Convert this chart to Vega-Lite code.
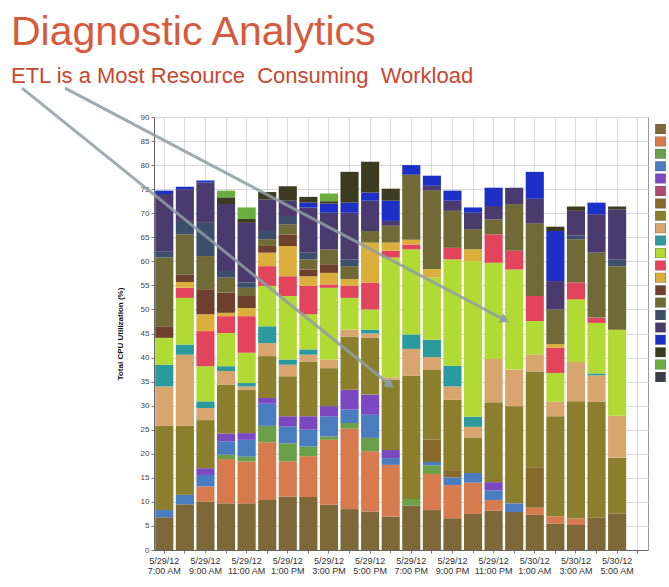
{
  "$schema": "https://vega.github.io/schema/vega-lite/v6.json",
  "width": 494,
  "height": 433,
  "autosize": {"type": "none"},
  "padding": {"left": 154, "top": 117, "right": 21, "bottom": 37},
  "background": "white",
  "title": {
    "text": "Diagnostic Analytics",
    "subtitle": "ETL is a Most Resource\u00a0 Consuming\u00a0 Workload",
    "anchor": "start",
    "frame": "group",
    "dx": -143,
    "offset": -1,
    "font": "Liberation Sans",
    "fontSize": 41,
    "fontWeight": "normal",
    "color": "#d65a3d",
    "subtitleFont": "Liberation Sans",
    "subtitleFontSize": 22,
    "subtitleColor": "#c8472f",
    "subtitlePadding": 12
  },
  "datasets": {
    "bars": [
      {"t":"5/29/12|7:00 AM","s":"S01","v":6.8},{"t":"5/29/12|7:00 AM","s":"S04","v":1.5},{"t":"5/29/12|7:00 AM","s":"S08","v":17.5},{"t":"5/29/12|7:00 AM","s":"S09","v":8.2},{"t":"5/29/12|7:00 AM","s":"S10","v":4.5},{"t":"5/29/12|7:00 AM","s":"S11","v":5.6},{"t":"5/29/12|7:00 AM","s":"S14","v":2.4},{"t":"5/29/12|7:00 AM","s":"S15","v":14.3},{"t":"5/29/12|7:00 AM","s":"S16","v":1.2},{"t":"5/29/12|7:00 AM","s":"S17","v":12},{"t":"5/29/12|7:00 AM","s":"S18","v":0.7},
      {"t":"5/29/12|8:00 AM","s":"S01","v":9.5},{"t":"5/29/12|8:00 AM","s":"S04","v":2},{"t":"5/29/12|8:00 AM","s":"S08","v":14.3},{"t":"5/29/12|8:00 AM","s":"S09","v":14.8},{"t":"5/29/12|8:00 AM","s":"S10","v":2.1},{"t":"5/29/12|8:00 AM","s":"S11","v":9.7},{"t":"5/29/12|8:00 AM","s":"S12","v":2.1},{"t":"5/29/12|8:00 AM","s":"S13","v":1.2},{"t":"5/29/12|8:00 AM","s":"S14","v":1.6},{"t":"5/29/12|8:00 AM","s":"S15","v":8.3},{"t":"5/29/12|8:00 AM","s":"S16","v":2.8},{"t":"5/29/12|8:00 AM","s":"S17","v":6.6},{"t":"5/29/12|8:00 AM","s":"S18","v":0.5},
      {"t":"5/29/12|9:00 AM","s":"S01","v":10},{"t":"5/29/12|9:00 AM","s":"S02","v":3.2},{"t":"5/29/12|9:00 AM","s":"S04","v":2.4},{"t":"5/29/12|9:00 AM","s":"S05","v":1.4},{"t":"5/29/12|9:00 AM","s":"S08","v":10},{"t":"5/29/12|9:00 AM","s":"S09","v":2.5},{"t":"5/29/12|9:00 AM","s":"S10","v":1.4},{"t":"5/29/12|9:00 AM","s":"S11","v":7.3},{"t":"5/29/12|9:00 AM","s":"S12","v":7.3},{"t":"5/29/12|9:00 AM","s":"S13","v":3.5},{"t":"5/29/12|9:00 AM","s":"S14","v":5.2},{"t":"5/29/12|9:00 AM","s":"S15","v":6.9},{"t":"5/29/12|9:00 AM","s":"S16","v":6.9},{"t":"5/29/12|9:00 AM","s":"S17","v":8.4},{"t":"5/29/12|9:00 AM","s":"S18","v":0.4},
      {"t":"5/29/12|10:00 AM","s":"S01","v":9.7},{"t":"5/29/12|10:00 AM","s":"S02","v":9.2},{"t":"5/29/12|10:00 AM","s":"S03","v":0.9},{"t":"5/29/12|10:00 AM","s":"S04","v":2.8},{"t":"5/29/12|10:00 AM","s":"S05","v":1.6},{"t":"5/29/12|10:00 AM","s":"S08","v":10.2},{"t":"5/29/12|10:00 AM","s":"S09","v":2.8},{"t":"5/29/12|10:00 AM","s":"S10","v":1},{"t":"5/29/12|10:00 AM","s":"S11","v":6.9},{"t":"5/29/12|10:00 AM","s":"S12","v":3.5},{"t":"5/29/12|10:00 AM","s":"S13","v":0.7},{"t":"5/29/12|10:00 AM","s":"S14","v":4.2},{"t":"5/29/12|10:00 AM","s":"S15","v":3.1},{"t":"5/29/12|10:00 AM","s":"S16","v":1.4},{"t":"5/29/12|10:00 AM","s":"S17","v":13.9},{"t":"5/29/12|10:00 AM","s":"S19","v":1.4},{"t":"5/29/12|10:00 AM","s":"S20","v":1.4},
      {"t":"5/29/12|11:00 AM","s":"S01","v":9.7},{"t":"5/29/12|11:00 AM","s":"S02","v":8.7},{"t":"5/29/12|11:00 AM","s":"S03","v":1},{"t":"5/29/12|11:00 AM","s":"S04","v":3.5},{"t":"5/29/12|11:00 AM","s":"S05","v":1.4},{"t":"5/29/12|11:00 AM","s":"S08","v":9},{"t":"5/29/12|11:00 AM","s":"S09","v":0.7},{"t":"5/29/12|11:00 AM","s":"S10","v":0.7},{"t":"5/29/12|11:00 AM","s":"S11","v":6.3},{"t":"5/29/12|11:00 AM","s":"S12","v":7.6},{"t":"5/29/12|11:00 AM","s":"S13","v":1.7},{"t":"5/29/12|11:00 AM","s":"S14","v":2.5},{"t":"5/29/12|11:00 AM","s":"S15","v":1.7},{"t":"5/29/12|11:00 AM","s":"S16","v":1.1},{"t":"5/29/12|11:00 AM","s":"S17","v":12.4},{"t":"5/29/12|11:00 AM","s":"S19","v":0.8},{"t":"5/29/12|11:00 AM","s":"S20","v":2.4},
      {"t":"5/29/12|12:00 PM","s":"S01","v":10.4},{"t":"5/29/12|12:00 PM","s":"S02","v":12},{"t":"5/29/12|12:00 PM","s":"S03","v":3.4},{"t":"5/29/12|12:00 PM","s":"S04","v":4.6},{"t":"5/29/12|12:00 PM","s":"S05","v":1.2},{"t":"5/29/12|12:00 PM","s":"S08","v":8.7},{"t":"5/29/12|12:00 PM","s":"S09","v":2.7},{"t":"5/29/12|12:00 PM","s":"S10","v":3.5},{"t":"5/29/12|12:00 PM","s":"S11","v":8.4},{"t":"5/29/12|12:00 PM","s":"S12","v":4.1},{"t":"5/29/12|12:00 PM","s":"S13","v":2.8},{"t":"5/29/12|12:00 PM","s":"S14","v":1.4},{"t":"5/29/12|12:00 PM","s":"S15","v":1.4},{"t":"5/29/12|12:00 PM","s":"S16","v":1.7},{"t":"5/29/12|12:00 PM","s":"S17","v":6.6},{"t":"5/29/12|12:00 PM","s":"S19","v":1.5},
      {"t":"5/29/12|1:00 PM","s":"S01","v":11.1},{"t":"5/29/12|1:00 PM","s":"S02","v":7.3},{"t":"5/29/12|1:00 PM","s":"S03","v":3.8},{"t":"5/29/12|1:00 PM","s":"S04","v":3.5},{"t":"5/29/12|1:00 PM","s":"S05","v":2.1},{"t":"5/29/12|1:00 PM","s":"S08","v":8.3},{"t":"5/29/12|1:00 PM","s":"S09","v":2.4},{"t":"5/29/12|1:00 PM","s":"S10","v":1.1},{"t":"5/29/12|1:00 PM","s":"S11","v":13.2},{"t":"5/29/12|1:00 PM","s":"S12","v":4.1},{"t":"5/29/12|1:00 PM","s":"S13","v":6.3},{"t":"5/29/12|1:00 PM","s":"S14","v":2.4},{"t":"5/29/12|1:00 PM","s":"S15","v":2.1},{"t":"5/29/12|1:00 PM","s":"S16","v":1.7},{"t":"5/29/12|1:00 PM","s":"S17","v":3.2},{"t":"5/29/12|1:00 PM","s":"S19","v":3},
      {"t":"5/29/12|2:00 PM","s":"S01","v":11},{"t":"5/29/12|2:00 PM","s":"S02","v":8.5},{"t":"5/29/12|2:00 PM","s":"S03","v":2},{"t":"5/29/12|2:00 PM","s":"S04","v":3.5},{"t":"5/29/12|2:00 PM","s":"S05","v":2.8},{"t":"5/29/12|2:00 PM","s":"S08","v":11.4},{"t":"5/29/12|2:00 PM","s":"S09","v":1.4},{"t":"5/29/12|2:00 PM","s":"S10","v":1.1},{"t":"5/29/12|2:00 PM","s":"S11","v":7.3},{"t":"5/29/12|2:00 PM","s":"S12","v":5.9},{"t":"5/29/12|2:00 PM","s":"S13","v":2},{"t":"5/29/12|2:00 PM","s":"S14","v":1.4},{"t":"5/29/12|2:00 PM","s":"S15","v":2.1},{"t":"5/29/12|2:00 PM","s":"S16","v":1.4},{"t":"5/29/12|2:00 PM","s":"S17","v":9.4},{"t":"5/29/12|2:00 PM","s":"S18","v":1},{"t":"5/29/12|2:00 PM","s":"S19","v":1.2},
      {"t":"5/29/12|3:00 PM","s":"S01","v":9.4},{"t":"5/29/12|3:00 PM","s":"S02","v":13.5},{"t":"5/29/12|3:00 PM","s":"S03","v":0.7},{"t":"5/29/12|3:00 PM","s":"S04","v":4.2},{"t":"5/29/12|3:00 PM","s":"S05","v":2.1},{"t":"5/29/12|3:00 PM","s":"S08","v":7.9},{"t":"5/29/12|3:00 PM","s":"S09","v":1.8},{"t":"5/29/12|3:00 PM","s":"S11","v":14.9},{"t":"5/29/12|3:00 PM","s":"S12","v":0.7},{"t":"5/29/12|3:00 PM","s":"S13","v":2.4},{"t":"5/29/12|3:00 PM","s":"S14","v":1.8},{"t":"5/29/12|3:00 PM","s":"S15","v":3.1},{"t":"5/29/12|3:00 PM","s":"S17","v":7.6},{"t":"5/29/12|3:00 PM","s":"S18","v":1.9},{"t":"5/29/12|3:00 PM","s":"S19","v":0.5},{"t":"5/29/12|3:00 PM","s":"S20","v":1.6},
      {"t":"5/29/12|4:00 PM","s":"S01","v":8.5},{"t":"5/29/12|4:00 PM","s":"S02","v":16.7},{"t":"5/29/12|4:00 PM","s":"S03","v":1.2},{"t":"5/29/12|4:00 PM","s":"S04","v":2.8},{"t":"5/29/12|4:00 PM","s":"S05","v":4.1},{"t":"5/29/12|4:00 PM","s":"S08","v":11.1},{"t":"5/29/12|4:00 PM","s":"S09","v":1.4},{"t":"5/29/12|4:00 PM","s":"S11","v":6.6},{"t":"5/29/12|4:00 PM","s":"S12","v":2.5},{"t":"5/29/12|4:00 PM","s":"S13","v":1.4},{"t":"5/29/12|4:00 PM","s":"S15","v":2.7},{"t":"5/29/12|4:00 PM","s":"S16","v":1.4},{"t":"5/29/12|4:00 PM","s":"S17","v":9.7},{"t":"5/29/12|4:00 PM","s":"S18","v":2.1},{"t":"5/29/12|4:00 PM","s":"S19","v":6.4},
      {"t":"5/29/12|5:00 PM","s":"S01","v":8},{"t":"5/29/12|5:00 PM","s":"S02","v":12.5},{"t":"5/29/12|5:00 PM","s":"S03","v":2.8},{"t":"5/29/12|5:00 PM","s":"S04","v":4.8},{"t":"5/29/12|5:00 PM","s":"S05","v":4.2},{"t":"5/29/12|5:00 PM","s":"S08","v":11.8},{"t":"5/29/12|5:00 PM","s":"S09","v":0.9},{"t":"5/29/12|5:00 PM","s":"S10","v":0.8},{"t":"5/29/12|5:00 PM","s":"S11","v":4.2},{"t":"5/29/12|5:00 PM","s":"S12","v":5.6},{"t":"5/29/12|5:00 PM","s":"S13","v":8.3},{"t":"5/29/12|5:00 PM","s":"S15","v":2.4},{"t":"5/29/12|5:00 PM","s":"S17","v":6.3},{"t":"5/29/12|5:00 PM","s":"S18","v":1.7},{"t":"5/29/12|5:00 PM","s":"S19","v":6.4},
      {"t":"5/29/12|6:00 PM","s":"S01","v":6.9},{"t":"5/29/12|6:00 PM","s":"S02","v":10.8},{"t":"5/29/12|6:00 PM","s":"S04","v":1.4},{"t":"5/29/12|6:00 PM","s":"S05","v":1.7},{"t":"5/29/12|6:00 PM","s":"S08","v":14.6},{"t":"5/29/12|6:00 PM","s":"S09","v":0.5},{"t":"5/29/12|6:00 PM","s":"S11","v":24.9},{"t":"5/29/12|6:00 PM","s":"S12","v":1.4},{"t":"5/29/12|6:00 PM","s":"S13","v":1.7},{"t":"5/29/12|6:00 PM","s":"S15","v":3.5},{"t":"5/29/12|6:00 PM","s":"S17","v":1},{"t":"5/29/12|6:00 PM","s":"S18","v":4.2},{"t":"5/29/12|6:00 PM","s":"S19","v":2.5},
      {"t":"5/29/12|7:00 PM","s":"S01","v":9.2},{"t":"5/29/12|7:00 PM","s":"S03","v":1.4},{"t":"5/29/12|7:00 PM","s":"S08","v":25.6},{"t":"5/29/12|7:00 PM","s":"S09","v":5.6},{"t":"5/29/12|7:00 PM","s":"S10","v":3},{"t":"5/29/12|7:00 PM","s":"S11","v":17.7},{"t":"5/29/12|7:00 PM","s":"S12","v":1},{"t":"5/29/12|7:00 PM","s":"S13","v":1},{"t":"5/29/12|7:00 PM","s":"S15","v":13.5},{"t":"5/29/12|7:00 PM","s":"S18","v":2},
      {"t":"5/29/12|8:00 PM","s":"S01","v":8.3},{"t":"5/29/12|8:00 PM","s":"S02","v":7.5},{"t":"5/29/12|8:00 PM","s":"S03","v":1.8},{"t":"5/29/12|8:00 PM","s":"S04","v":0.7},{"t":"5/29/12|8:00 PM","s":"S07","v":4.6},{"t":"5/29/12|8:00 PM","s":"S08","v":14.5},{"t":"5/29/12|8:00 PM","s":"S09","v":2.7},{"t":"5/29/12|8:00 PM","s":"S10","v":3.6},{"t":"5/29/12|8:00 PM","s":"S11","v":13},{"t":"5/29/12|8:00 PM","s":"S13","v":1.7},{"t":"5/29/12|8:00 PM","s":"S15","v":16.3},{"t":"5/29/12|8:00 PM","s":"S17","v":1},{"t":"5/29/12|8:00 PM","s":"S18","v":2.1},
      {"t":"5/29/12|9:00 PM","s":"S01","v":6.6},{"t":"5/29/12|9:00 PM","s":"S02","v":6.9},{"t":"5/29/12|9:00 PM","s":"S04","v":1.6},{"t":"5/29/12|9:00 PM","s":"S07","v":1.5},{"t":"5/29/12|9:00 PM","s":"S08","v":14.6},{"t":"5/29/12|9:00 PM","s":"S09","v":2.8},{"t":"5/29/12|9:00 PM","s":"S10","v":4.3},{"t":"5/29/12|9:00 PM","s":"S11","v":22.1},{"t":"5/29/12|9:00 PM","s":"S12","v":2.4},{"t":"5/29/12|9:00 PM","s":"S15","v":7.7},{"t":"5/29/12|9:00 PM","s":"S17","v":2.1},{"t":"5/29/12|9:00 PM","s":"S18","v":2.1},
      {"t":"5/29/12|10:00 PM","s":"S01","v":7.5},{"t":"5/29/12|10:00 PM","s":"S02","v":6.5},{"t":"5/29/12|10:00 PM","s":"S04","v":2},{"t":"5/29/12|10:00 PM","s":"S08","v":7.4},{"t":"5/29/12|10:00 PM","s":"S09","v":2.2},{"t":"5/29/12|10:00 PM","s":"S10","v":2.1},{"t":"5/29/12|10:00 PM","s":"S11","v":32.3},{"t":"5/29/12|10:00 PM","s":"S13","v":2.5},{"t":"5/29/12|10:00 PM","s":"S15","v":4.2},{"t":"5/29/12|10:00 PM","s":"S17","v":3.4},{"t":"5/29/12|10:00 PM","s":"S18","v":1.1},
      {"t":"5/29/12|11:00 PM","s":"S01","v":8.2},{"t":"5/29/12|11:00 PM","s":"S02","v":2.2},{"t":"5/29/12|11:00 PM","s":"S04","v":2},{"t":"5/29/12|11:00 PM","s":"S05","v":1.7},{"t":"5/29/12|11:00 PM","s":"S08","v":16.6},{"t":"5/29/12|11:00 PM","s":"S09","v":9},{"t":"5/29/12|11:00 PM","s":"S11","v":20},{"t":"5/29/12|11:00 PM","s":"S12","v":5.9},{"t":"5/29/12|11:00 PM","s":"S15","v":3.1},{"t":"5/29/12|11:00 PM","s":"S17","v":2.8},{"t":"5/29/12|11:00 PM","s":"S18","v":3.8},
      {"t":"5/30/12|12:00 AM","s":"S01","v":7.9},{"t":"5/30/12|12:00 AM","s":"S04","v":1.8},{"t":"5/30/12|12:00 AM","s":"S08","v":20.2},{"t":"5/30/12|12:00 AM","s":"S09","v":7.6},{"t":"5/30/12|12:00 AM","s":"S11","v":20.8},{"t":"5/30/12|12:00 AM","s":"S12","v":3.9},{"t":"5/30/12|12:00 AM","s":"S15","v":9.7},{"t":"5/30/12|12:00 AM","s":"S17","v":3.4},
      {"t":"5/30/12|1:00 AM","s":"S01","v":7.3},{"t":"5/30/12|1:00 AM","s":"S02","v":1.5},{"t":"5/30/12|1:00 AM","s":"S07","v":8.4},{"t":"5/30/12|1:00 AM","s":"S08","v":19.9},{"t":"5/30/12|1:00 AM","s":"S09","v":3.5},{"t":"5/30/12|1:00 AM","s":"S11","v":7},{"t":"5/30/12|1:00 AM","s":"S12","v":5.2},{"t":"5/30/12|1:00 AM","s":"S15","v":15.1},{"t":"5/30/12|1:00 AM","s":"S17","v":5.1},{"t":"5/30/12|1:00 AM","s":"S18","v":5.6},
      {"t":"5/30/12|2:00 AM","s":"S01","v":5.5},{"t":"5/30/12|2:00 AM","s":"S02","v":1.5},{"t":"5/30/12|2:00 AM","s":"S08","v":20.8},{"t":"5/30/12|2:00 AM","s":"S09","v":3},{"t":"5/30/12|2:00 AM","s":"S11","v":6},{"t":"5/30/12|2:00 AM","s":"S12","v":5.2},{"t":"5/30/12|2:00 AM","s":"S13","v":0.8},{"t":"5/30/12|2:00 AM","s":"S15","v":7.2},{"t":"5/30/12|2:00 AM","s":"S17","v":5.9},{"t":"5/30/12|2:00 AM","s":"S18","v":10.4},{"t":"5/30/12|2:00 AM","s":"S19","v":0.9},
      {"t":"5/30/12|3:00 AM","s":"S01","v":5.2},{"t":"5/30/12|3:00 AM","s":"S02","v":1.4},{"t":"5/30/12|3:00 AM","s":"S08","v":24.3},{"t":"5/30/12|3:00 AM","s":"S09","v":8.2},{"t":"5/30/12|3:00 AM","s":"S11","v":13},{"t":"5/30/12|3:00 AM","s":"S12","v":3.5},{"t":"5/30/12|3:00 AM","s":"S15","v":9},{"t":"5/30/12|3:00 AM","s":"S16","v":0.8},{"t":"5/30/12|3:00 AM","s":"S17","v":5.1},{"t":"5/30/12|3:00 AM","s":"S19","v":0.9},
      {"t":"5/30/12|4:00 AM","s":"S01","v":6.8},{"t":"5/30/12|4:00 AM","s":"S08","v":24},{"t":"5/30/12|4:00 AM","s":"S09","v":5.5},{"t":"5/30/12|4:00 AM","s":"S10","v":0.4},{"t":"5/30/12|4:00 AM","s":"S11","v":10.5},{"t":"5/30/12|4:00 AM","s":"S12","v":1.1},{"t":"5/30/12|4:00 AM","s":"S15","v":13.5},{"t":"5/30/12|4:00 AM","s":"S17","v":8},{"t":"5/30/12|4:00 AM","s":"S18","v":2.4},
      {"t":"5/30/12|5:00 AM","s":"S01","v":7.6},{"t":"5/30/12|5:00 AM","s":"S08","v":11.6},{"t":"5/30/12|5:00 AM","s":"S09","v":8.7},{"t":"5/30/12|5:00 AM","s":"S11","v":17.9},{"t":"5/30/12|5:00 AM","s":"S15","v":13.2},{"t":"5/30/12|5:00 AM","s":"S16","v":1.4},{"t":"5/30/12|5:00 AM","s":"S17","v":10.4},{"t":"5/30/12|5:00 AM","s":"S19","v":0.6}
    ],
    "arrows": [
      {"id": 1, "x1": -6.41, "y1": 96, "x2": 11.47, "y2": 34.3},
      {"id": 2, "x1": -4.32, "y1": 96, "x2": 17.05, "y2": 47.8}
    ]
  },
  "layer": [
    {
      "data": {"name": "bars"},
      "mark": {"type": "bar"},
      "encoding": {
        "x": {
          "field": "t",
          "type": "nominal",
          "sort": null,
          "scale": {
            "domain": ["5/29/12|7:00 AM","5/29/12|8:00 AM","5/29/12|9:00 AM","5/29/12|10:00 AM","5/29/12|11:00 AM","5/29/12|12:00 PM","5/29/12|1:00 PM","5/29/12|2:00 PM","5/29/12|3:00 PM","5/29/12|4:00 PM","5/29/12|5:00 PM","5/29/12|6:00 PM","5/29/12|7:00 PM","5/29/12|8:00 PM","5/29/12|9:00 PM","5/29/12|10:00 PM","5/29/12|11:00 PM","5/30/12|12:00 AM","5/30/12|1:00 AM","5/30/12|2:00 AM","5/30/12|3:00 AM","5/30/12|4:00 AM","5/30/12|5:00 AM","5/30/12|6:00 AM"],
            "paddingInner": 0.12,
            "paddingOuter": 0.06
          },
          "axis": {
            "title": null,
            "labelExpr": "parseInt(split(datum.value, '|')[1]) % 2 == 1 ? split(datum.value, '|') : ''",
            "labelAngle": 0,
            "labelFontSize": 9,
            "labelLineHeight": 10,
            "labelColor": "#333333",
            "labelOverlap": false,
            "labelBound": false,
            "labelPadding": 3,
            "tickSize": 3,
            "tickColor": "#777777",
            "bandPosition": 0.5,
            "grid": true,
            "gridColor": "#d9d9d9",
            "domainColor": "#666666"
          }
        },
        "y": {
          "field": "v",
          "type": "quantitative",
          "stack": "zero",
          "scale": {"domain": [0, 90], "nice": false},
          "axis": {
            "title": "Total CPU Utilization (%)",
            "values": [0,5,10,15,20,25,30,35,40,45,50,55,60,65,70,75,80,85,90],
            "grid": true,
            "gridColor": "#d9d9d9",
            "labelFontSize": 8,
            "labelColor": "#444444",
            "tickSize": 3,
            "tickColor": "#777777",
            "domainColor": "#666666",
            "titleFontSize": 8,
            "titleFontWeight": "bold",
            "titleColor": "#111111",
            "titlePadding": 16
          }
        },
        "color": {
          "field": "s",
          "type": "nominal",
          "scale": {
            "domain": ["S01","S02","S03","S04","S05","S06","S07","S08","S09","S10","S11","S12","S13","S14","S15","S16","S17","S18","S19","S20","S21"],
            "range": ["#7f6838","#d77a4d","#6b9f48","#4a7cc0","#7b48c2","#b34a72","#86692b","#8b7e2c","#d8a56f","#2b9a9c","#b2da35","#e2455b","#dcaf3c","#6d3f2c","#6f6a36","#3d4d6c","#4a3a6d","#1c30c8","#3d3b1f","#6aae40","#3c3c48"]
          },
          "legend": {
            "title": null,
            "orient": "right",
            "offset": 0,
            "padding": 7,
            "symbolType": "square",
            "symbolSize": 100,
            "symbolStrokeWidth": 0.6,
            "symbolStrokeColor": "#555555",
            "labelExpr": "''",
            "labelFontSize": 6,
            "clipHeight": 10,
            "rowPadding": 2.4
          }
        },
        "order": {"field": "s", "sort": "ascending"}
      }
    },
    {
      "data": {"name": "arrows"},
      "mark": {"type": "rule", "strokeWidth": 3, "color": "#8e9da5", "opacity": 0.85},
      "encoding": {
        "x": {"field": "x1", "type": "quantitative", "scale": {"domain": [0, 24], "nice": false, "zero": false}, "axis": null},
        "x2": {"field": "x2"},
        "y": {"field": "y1", "type": "quantitative", "scale": {"domain": [0, 90], "nice": false}, "axis": null},
        "y2": {"field": "y2"}
      }
    },
    {
      "data": {"name": "arrows"},
      "transform": [{"filter": "datum.id == 1"}],
      "mark": {"type": "point", "shape": "triangle-right", "filled": true, "size": 110, "angle": 39, "color": "#8e9da5", "opacity": 0.95},
      "encoding": {
        "x": {"field": "x2", "type": "quantitative", "scale": {"domain": [0, 24], "nice": false, "zero": false}, "axis": null},
        "y": {"field": "y2", "type": "quantitative", "scale": {"domain": [0, 90], "nice": false}, "axis": null}
      }
    },
    {
      "data": {"name": "arrows"},
      "transform": [{"filter": "datum.id == 2"}],
      "mark": {"type": "point", "shape": "triangle-right", "filled": true, "size": 110, "angle": 28, "color": "#8e9da5", "opacity": 0.95},
      "encoding": {
        "x": {"field": "x2", "type": "quantitative", "scale": {"domain": [0, 24], "nice": false, "zero": false}, "axis": null},
        "y": {"field": "y2", "type": "quantitative", "scale": {"domain": [0, 90], "nice": false}, "axis": null}
      }
    }
  ],
  "resolve": {"scale": {"x": "independent", "y": "independent"}},
  "config": {
    "font": "Liberation Sans",
    "view": {"stroke": "#9a9a9a", "strokeWidth": 1}
  }
}
